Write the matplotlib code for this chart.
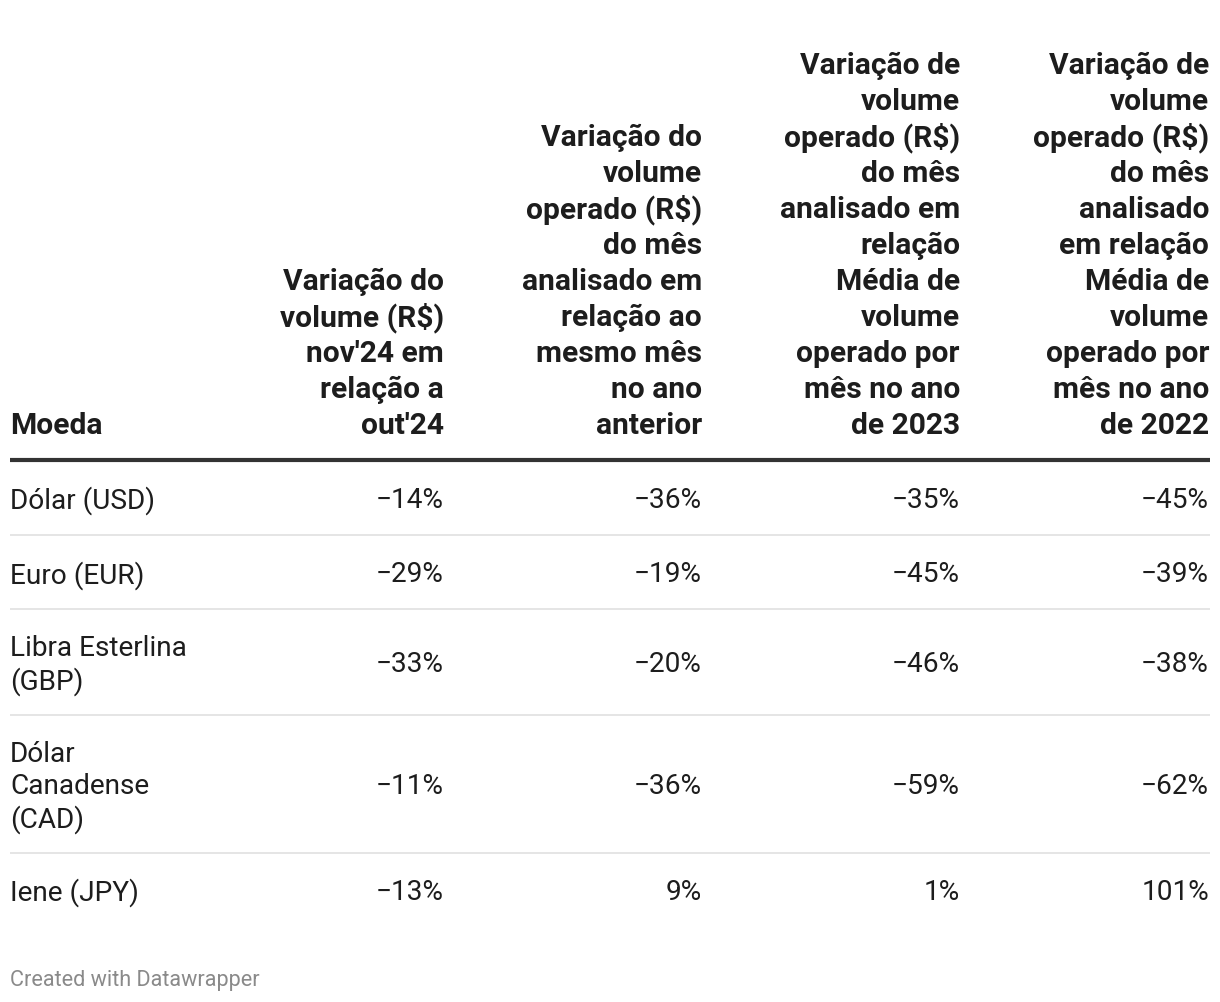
import matplotlib
matplotlib.use("Agg")
import matplotlib.pyplot as plt

plt.rcParams['font.family'] = ['Roboto', 'DejaVu Sans']

# ---- data ----
currencies = [["Dólar (USD)"], ["Euro (EUR)"], ["Libra Esterlina", "(GBP)"],
              ["Dólar", "Canadense", "(CAD)"], ["Iene (JPY)"]]
var_mom = [-14, -29, -33, -11, -13]
var_yoy = [-36, -19, -20, -36, 9]
var_avg23 = [-35, -45, -46, -59, 1]
var_avg22 = [-45, -39, -38, -62, 101]

header_first = ["Moeda"]
headers = [
    ["Variação do", "volume (R\\$)", "nov'24 em", "relação a", "out'24"],
    ["Variação do", "volume", "operado (R\\$)", "do mês", "analisado em",
     "relação ao", "mesmo mês", "no ano", "anterior"],
    ["Variação de", "volume", "operado (R\\$)", "do mês", "analisado em",
     "relação", "Média de", "volume", "operado por", "mês no ano", "de 2023"],
    ["Variação de", "volume", "operado (R\\$)", "do mês", "analisado",
     "em relação", "Média de", "volume", "operado por", "mês no ano", "de 2022"],
]
footer = "Created with Datawrapper"

# ---- layout (pixels) ----
W, H = 1220, 1002
fig = plt.figure(figsize=(W / 100, H / 100), dpi=100)
ax = fig.add_axes([0, 0, 1, 1])
ax.set_xlim(0, W)
ax.set_ylim(H, 0)
ax.axis('off')

FS_H = 21.6     # header pt
FS = 20.2       # body pt
TXT = '#1d1d1d'
left_x = 10
col_right = [444, 702, 960, 1209]
head_base = 434
head_step = 36

def fmt(v):
    return (f"\u2212{abs(v)}%" if v < 0 else f"{v}%")

# header
ax.text(left_x, head_base, header_first[0], ha='left', va='baseline',
        fontsize=FS_H, fontweight='bold', color=TXT)
for ci, lines in enumerate(headers):
    n = len(lines)
    for i, ln in enumerate(lines):
        y = head_base - head_step * (n - 1 - i)
        ax.text(col_right[ci], y, ln, ha='right', va='baseline',
                fontsize=FS_H, fontweight='bold', color=TXT)

# thick header rule
ax.plot([10, 1210], [460, 460], color='#333333', lw=3.0, solid_capstyle='butt')

row_centers = [497, 572, 662, 784, 889]
separators = [535, 609, 715, 853]
body_step = 32
for y in separators:
    ax.plot([10, 1210], [y, y], color='#e5e5e5', lw=1.4, solid_capstyle='butt')

cols = [var_mom, var_yoy, var_avg23, var_avg22]
for r, yc in enumerate(row_centers):
    lines = currencies[r]
    n = len(lines)
    for i, ln in enumerate(lines):
        y = yc + (i - (n - 1) / 2) * body_step
        ax.text(left_x, y, ln, ha='left', va='center_baseline',
                fontsize=FS, color=TXT)
    for ci, vals in enumerate(cols):
        ax.text(col_right[ci], yc, fmt(vals[r]), ha='right',
                va='center_baseline', fontsize=FS, color=TXT)

ax.text(left_x, 978, footer, ha='left', va='center_baseline',
        fontsize=15.6, color='#8a8a8a')

fig.savefig('out.png', dpi=100)
